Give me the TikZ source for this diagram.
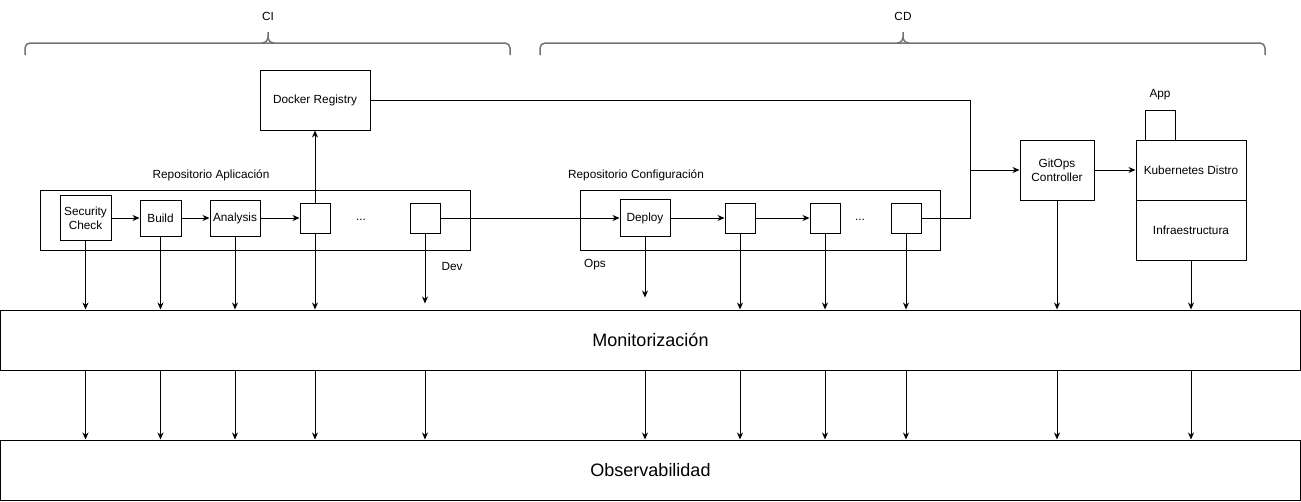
\documentclass[tikz,border=0pt]{standalone}
\usepackage{fontspec}
\setmainfont{Liberation Sans}
\usepackage{tikz}
\usetikzlibrary{positioning, arrows.meta, calc}
\tikzstyle{block}=[draw, rectangle, inner sep=0pt, align=center, font=\fontsize{11.8}{14}\selectfont]
\tikzstyle{stage}=[block, minimum width=30pt, minimum height=30pt]
\tikzstyle{repo}=[draw, rectangle, inner sep=0pt]
\tikzstyle{layer}=[draw, rectangle, minimum width=1300pt, minimum height=60pt, font=\fontsize{18}{21}\selectfont]
\tikzstyle{tag}=[inner sep=0pt, font=\fontsize{11.8}{14}\selectfont]
\tikzstyle{arrow}=[-{Stealth[length=7pt, width=6pt]}]
\tikzstyle{line}=[]
\tikzstyle{brace}=[draw=black!55, line width=1.5pt]

\begin{document}
\begin{tikzpicture}[x=1pt, y=-1pt, line width=1pt]
      \useasboundingbox (0,0) rectangle (1301,501);

      % CI / CD braces
      \node[tag] (ciLabel) at (268,16) {CI};
      \node[tag] (cdLabel) at (903,16) {CD};
      \draw[brace, rounded corners=5pt] (25,55) -- (25,43) -- (510,43) -- (510,55);
      \draw[brace] (262,43) to[out=0,in=270] (268,37) -- (268,32);
      \draw[brace] (274,43) to[out=180,in=270] (268,37);
      \draw[brace, rounded corners=5pt] (540,55) -- (540,43) -- (1265,43) -- (1265,55);
      \draw[brace] (897,43) to[out=0,in=270] (903,37) -- (903,32);
      \draw[brace] (909,43) to[out=180,in=270] (903,37);

      \node[block, minimum width=110pt, minimum height=60pt] (dockerReg) at (315,100) {Docker Registry};

      % application repository
      \node[repo, minimum width=430pt, minimum height=60pt] (repoApp) at (255,220) {};
      \node[tag] at (211,175) {Repositorio Aplicación};
      \node[block, minimum width=51pt, minimum height=45pt] (secCheck) at (85.5,218) {Security\\Check};
      \node[block, minimum width=41pt, minimum height=36pt] (build) at (160.5,218) {Build};
      \node[block, minimum width=50pt, minimum height=36pt] (analysis) at (235,218) {Analysis};
      \node[stage] (appStep1) at (315,218) {};
      \node[tag] (appDots) at (361,220) {...};
      \node[stage] (appStep2) at (425,218) {};
      \node[tag] at (452,266) {Dev};

      % configuration repository
      \node[repo, minimum width=360pt, minimum height=60pt] (repoConf) at (760,220) {};
      \node[tag] at (636,175) {Repositorio Configuración};
      \node[block, minimum width=50pt, minimum height=37pt] (deploy) at (645,218) {Deploy};
      \node[stage] (confStep1) at (740,218) {};
      \node[stage] (confStep2) at (825,218) {};
      \node[tag] (confDots) at (860,220) {...};
      \node[stage] (confStep3) at (906,218) {};
      \node[tag] at (595,265) {Ops};

      % cluster
      \node[block, minimum width=74pt, minimum height=60pt] (gitops) at (1057,170) {GitOps\\Controller};
      \node[block, minimum width=110pt, minimum height=60pt] (kube) at (1191,170) {Kubernetes Distro};
      \node[block, minimum width=110pt, minimum height=60pt] (infra) at (1191,230) {Infraestructura};
      \node[block, minimum width=30pt, minimum height=30pt] (appBox) at (1160,125) {};
      \node[tag] at (1160,95) {App};
      \coordinate (merge) at (970,170);

      \node[layer] (monit) at (650.5,340) {Monitorización};
      \node[layer] (observ) at (650.5,470) {Observabilidad};

      \draw[arrow] (secCheck) -- (build);
      \draw[arrow] (build) -- (analysis);
      \draw[arrow] (analysis) -- (appStep1);
      \draw[arrow] (appStep1) -- (dockerReg);
      \draw[arrow] (appStep2) -- (deploy);
      \draw[arrow] (deploy) -- (confStep1);
      \draw[arrow] (confStep1) -- (confStep2);
      \draw[line] (dockerReg.east) -| (merge);
      \draw[line] (confStep3.east) -| (merge);
      \draw[arrow] (merge) -- (gitops);
      \draw[arrow] (gitops) -- (kube);

      \coordinate (devEnd) at ($(appStep2.south |- monit.north)+(0,-6)$);
      \coordinate (opsEnd) at ($(deploy.south |- monit.north)+(0,-12)$);
      \draw[arrow] (appStep2) -- (devEnd);
      \draw[arrow] (deploy) -- (opsEnd);
      \foreach \n in {secCheck, build, analysis, appStep1, confStep1, confStep2, confStep3, gitops, infra}{
        \draw[arrow] (\n) -- (\n |- monit.north);
      }
      \foreach \n in {secCheck, build, analysis, appStep1, appStep2, deploy, confStep1, confStep2, confStep3, gitops, infra}{
        \draw[arrow] (monit.south -| \n) -- (observ.north -| \n);
      }

    \end{tikzpicture}
\end{document}
